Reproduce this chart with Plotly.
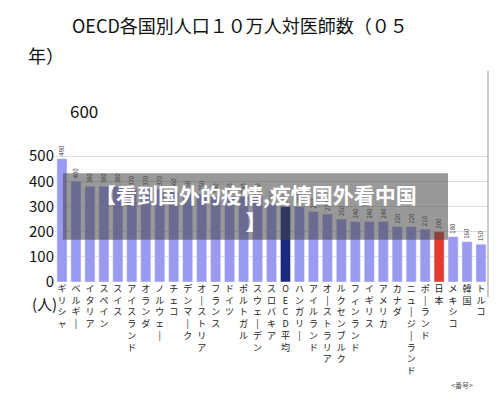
import plotly.graph_objects as go

countries = ["ギリシャ","ベルギー","イタリア","スペイン","スイス","アイスランド","オランダ","ノルウェー","チェコ","デンマーク","オーストリア","フランス","ドイツ","ポルトガル","スウェーデン","スロバキア","OECD平均","ハンガリー","アイルランド","オーストラリア","ルクセンブルク","フィンランド","イギリス","アメリカ","カナダ","ニュージーランド","ポーランド","日本","メキシコ","韓国","トルコ"]
values = [490,400,380,380,380,370,370,370,360,350,350,340,340,340,340,310,300,300,280,270,250,240,240,240,220,220,210,200,180,160,150]
ytick_vals = [0,100,200,300,400,500]

colors = ["#1c2a80" if c=="OECD平均" else "#e53a2f" if c=="日本" else "#9a9af0" for c in countries]
labels = ["<br>".join(list(c.replace("ー","|"))) for c in countries]

T, B, L = 123, 143, 47
fig = go.Figure(go.Bar(x=list(range(len(countries))), y=values, marker_color=colors,
    text=[str(v) for v in values], textposition="outside", textangle=-90,
    textfont=dict(size=9, color="#333"), cliponaxis=False, width=0.72))
fig.update_layout(width=500, height=417, margin=dict(l=L, r=20, t=T, b=B),
    paper_bgcolor="white", plot_bgcolor="white", showlegend=False,
    font=dict(family="Noto Sans CJK JP", color="#222"),
    xaxis=dict(tickvals=list(range(len(countries))), ticktext=labels, tickangle=0,
               tickfont=dict(size=9), range=[-0.5,30.5], showline=False, ticks=""),
    yaxis=dict(range=[0,600], tickvals=ytick_vals, gridcolor="#ddd", tickfont=dict(size=15, color="#111"),
               zeroline=False, showline=False))
W = 500 - L - 20
fig.add_annotation(text="OECD各国別人口１０万人対医師数（０５", xref="paper", yref="paper",
    x=(62-L)/W, y=1.0, yshift=T-2, xanchor="left", yanchor="top", showarrow=False,
    font=dict(size=18, color="#111"))
fig.add_annotation(text="年）", xref="paper", yref="paper",
    x=(18-L)/W, y=1.0, yshift=T-32, xanchor="left", yanchor="top", showarrow=False,
    font=dict(size=18, color="#111"))
fig.add_annotation(text="600", xref="paper", yref="paper", x=(60-L)/W, y=1.0, yshift=6, xanchor="left",
    yanchor="bottom", showarrow=False, font=dict(size=17, color="#111"))
fig.add_annotation(text="(人)", xref="paper", yref="paper", x=(22-L)/W, y=0, yshift=-34, xanchor="left",
    showarrow=False, font=dict(size=15, color="#111"))
fig.add_annotation(text="<番号>", xref="paper", yref="paper", x=0.97, y=0, yshift=-110, xanchor="right",
    showarrow=False, font=dict(size=7, color="#555"))
fig.add_shape(type="line", xref="paper", yref="paper", x0=1.0, x1=1.0, y0=-0.1, y1=1.4, line=dict(color="#999", width=1))
fig.add_shape(type="rect", xref="paper", yref="paper", x0=(55-L)/W, x1=(440-L)/W, y0=0.28, y1=0.72,
    fillcolor="rgba(70,70,70,0.55)", line=dict(width=0))
fig.add_annotation(text="<b>【看到国外的疫情,疫情国外看中国<br>】</b>", xref="paper", yref="paper", x=(248-L)/W, y=0.695,
    xanchor="center", yanchor="top", align="center", showarrow=False,
    font=dict(size=21, color="white", family="Noto Sans CJK SC"))
fig.write_html("out.html")
